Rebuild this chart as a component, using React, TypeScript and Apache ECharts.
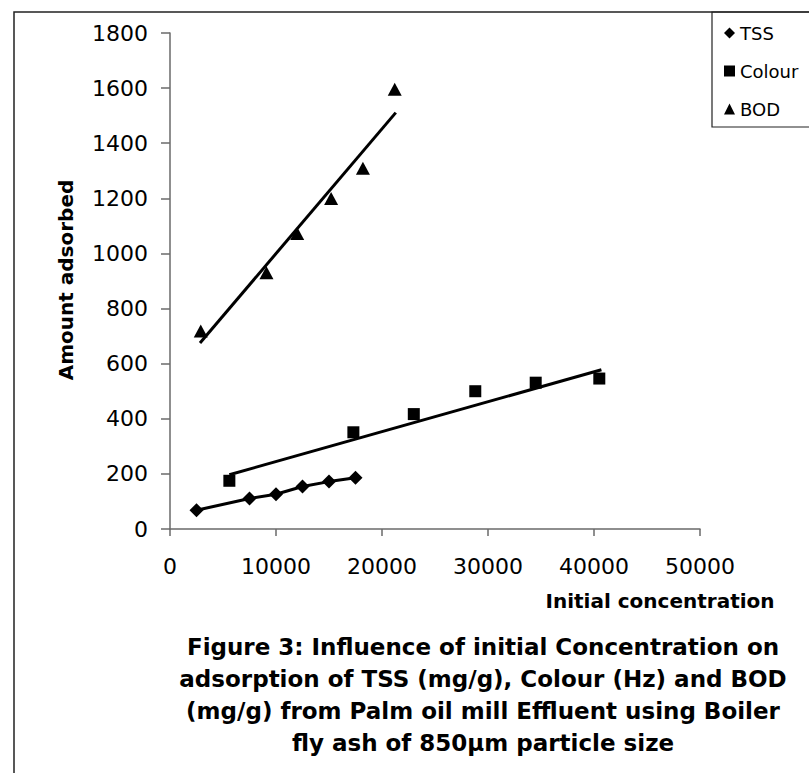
import React, { useEffect, useRef } from "react";
import * as echarts from "echarts";

// ---- data ----
const tssX = [2500, 7500, 10000, 12500, 15000, 17500];
const tssY = [68, 111, 126, 154, 172, 186];

const colourX = [5600, 17300, 23000, 28800, 34500, 40500];
const colourY = [175, 351, 417, 500, 531, 546];

const bodX = [2900, 9100, 12000, 15200, 18200, 21200];
const bodY = [719, 930, 1072, 1199, 1309, 1596];

// trend lines (end points)
const colourTrendX = [5600, 40700];
const colourTrendY = [197, 578];
const bodTrendX = [2830, 21300];
const bodTrendY = [675, 1511];

const seriesNames = ["TSS", "Colour", "BOD"];
const seriesIcons = ["diamond", "rect", "triangle"];

const xTicks = { min: 0, max: 50000, interval: 10000 };
const yTicks = { min: 0, max: 1800, interval: 200 };

const xAxisName = "Initial concentration";
const yAxisName = "Amount adsorbed";
const captionLines = [
  "Figure 3: Influence of initial Concentration on",
  "adsorption of TSS (mg/g), Colour (Hz) and BOD",
  "(mg/g) from Palm oil mill Effluent using Boiler",
  "fly ash of 850µm particle size",
];

const zip = (xs: number[], ys: number[]) => xs.map((x, i) => [x, ys[i]]);

export default function App() {
  const ref = useRef<HTMLDivElement>(null);

  useEffect(() => {
    if (!ref.current) return;
    const chart = echarts.init(ref.current, null, { renderer: "svg" });
    const font = "DejaVu Sans";
    const axisColor = "#6a6a6a";

    const graphic: any[] = [
      {
        type: "rect",
        shape: { x: 14, y: 12, width: 900, height: 900 },
        style: { fill: "none", stroke: "#222", lineWidth: 1.5 },
        silent: true,
      },
      {
        type: "rect",
        shape: { x: 712, y: 12, width: 200, height: 115 },
        style: { fill: "none", stroke: "#222", lineWidth: 1.2 },
        silent: true,
      },
      {
        type: "text",
        x: 66,
        y: 280,
        rotation: Math.PI / 2,
        style: {
          text: yAxisName,
          font: `bold 20px "${font}"`,
          fill: "#000",
          align: "center",
          verticalAlign: "middle",
        },
      },
      {
        type: "text",
        x: 660,
        y: 601,
        style: {
          text: xAxisName,
          font: `bold 20px "${font}"`,
          fill: "#000",
          align: "center",
          verticalAlign: "middle",
        },
      },
      ...captionLines.map((t, i) => ({
        type: "text",
        x: 483,
        y: 647 + i * 32,
        style: {
          text: t,
          font: `bold 23px "${font}"`,
          fill: "#000",
          align: "center",
          verticalAlign: "middle",
        },
      })),
    ];

    const plain = (v: number) => String(v);

    chart.setOption({
      animation: false,
      backgroundColor: "#fff",
      color: ["#000"],
      grid: { left: 170, top: 33, width: 530, height: 496, containLabel: false },
      legend: {
        orient: "vertical",
        left: 719,
        top: 17,
        itemWidth: 11,
        itemHeight: 11,
        itemGap: 16,
        textStyle: { fontFamily: font, fontSize: 18, color: "#000", lineHeight: 22 },
        itemStyle: { color: "#000", borderWidth: 0, opacity: 1 },
        data: seriesNames.map((n, i) => ({ name: n, icon: seriesIcons[i] })),
      },
      xAxis: {
        type: "value",
        min: xTicks.min,
        max: xTicks.max,
        interval: xTicks.interval,
        splitLine: { show: false },
        axisLine: { show: true, lineStyle: { color: axisColor, width: 1.5 } },
        axisTick: { show: true, length: 7, lineStyle: { color: axisColor, width: 1.5 } },
        axisLabel: { fontFamily: font, fontSize: 22, color: "#000", margin: 26, formatter: plain },
      },
      yAxis: {
        type: "value",
        min: yTicks.min,
        max: yTicks.max,
        interval: yTicks.interval,
        splitLine: { show: false },
        axisLine: { show: true, lineStyle: { color: axisColor, width: 1.5 } },
        axisTick: { show: true, length: 9, lineStyle: { color: axisColor, width: 1.5 } },
        axisLabel: { fontFamily: font, fontSize: 22, color: "#000", margin: 22, formatter: plain },
      },
      series: [
        {
          name: "TSS",
          type: "line",
          data: zip(tssX, tssY),
          symbol: "diamond",
          symbolSize: 14,
          showSymbol: true,
          lineStyle: { color: "#000", width: 3 },
          itemStyle: { color: "#000", opacity: 1 },
          z: 3,
        },
        {
          name: "Colour",
          type: "scatter",
          data: zip(colourX, colourY),
          symbol: "rect",
          symbolSize: 12,
          itemStyle: { color: "#000", opacity: 1 },
          z: 3,
        },
        {
          name: "BOD",
          type: "scatter",
          data: zip(bodX, bodY),
          symbol: "triangle",
          symbolSize: [14, 13],
          itemStyle: { color: "#000", opacity: 1 },
          z: 3,
        },
        {
          name: "Colour trend",
          type: "line",
          data: zip(colourTrendX, colourTrendY),
          symbol: "none",
          lineStyle: { color: "#000", width: 3 },
          z: 4,
        },
        {
          name: "BOD trend",
          type: "line",
          data: zip(bodTrendX, bodTrendY),
          symbol: "none",
          lineStyle: { color: "#000", width: 3 },
          z: 4,
        },
      ],
      graphic,
    });

    return () => chart.dispose();
  }, []);

  return (
    <div
      ref={ref}
      style={{ position: "absolute", left: 0, top: 0, width: 809, height: 773, background: "#fff" }}
    />
  );
}
